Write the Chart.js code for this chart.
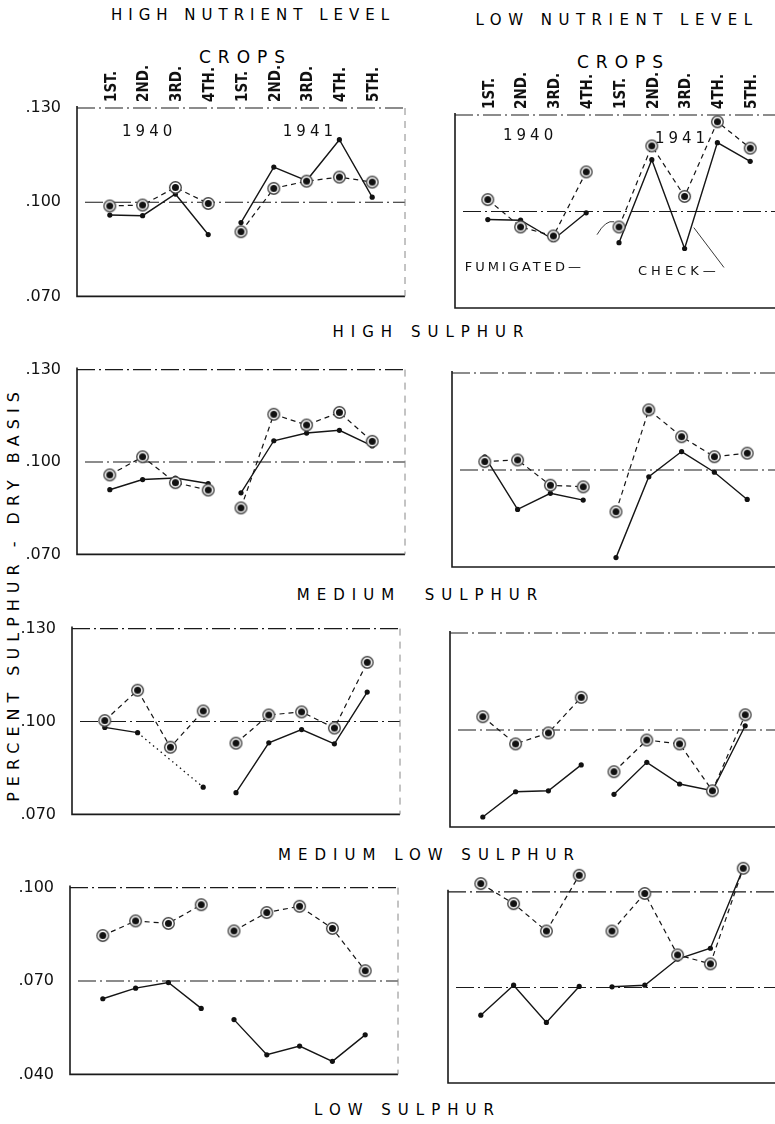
<!DOCTYPE html>
<html>
<head>
<meta charset="utf-8">
<script src="https://cdn.jsdelivr.net/npm/chart.js@4.4.1/dist/chart.umd.min.js"></script>
<style>
  html, body { margin: 0; padding: 0; background: #fff; overflow: hidden; }
  body { width: 775px; height: 1124px; position: relative; font-family: 'DejaVu Sans', sans-serif; color: #000; }
  .t { position: absolute; white-space: nowrap; line-height: 1; transform: translate(-50%, -50%); }
  canvas { position: absolute; }
</style>
</head>
<body>
<div class="t" style="left:250px;top:15px;font-size:15px;letter-spacing:6px;padding-left:6px">HIGH NUTRIENT LEVEL</div>
<div class="t" style="left:614px;top:20px;font-size:15px;letter-spacing:6.5px;padding-left:6px">LOW NUTRIENT LEVEL</div>
<div class="t" style="left:242px;top:57px;font-size:17px;letter-spacing:7px;padding-left:7px">CROPS</div>
<div class="t" style="left:620px;top:62px;font-size:17px;letter-spacing:7px;padding-left:7px">CROPS</div>
<div class="t" style="left:428px;top:332px;font-size:15px;letter-spacing:7px;padding-left:7px">HIGH SULPHUR</div>
<div class="t" style="left:417px;top:595px;font-size:15px;letter-spacing:7px;padding-left:7px">MEDIUM&nbsp; SULPHUR</div>
<div class="t" style="left:426px;top:855px;font-size:15px;letter-spacing:7px;padding-left:7px">MEDIUM LOW SULPHUR</div>
<div class="t" style="left:404px;top:1110px;font-size:15px;letter-spacing:7px;padding-left:7px">LOW SULPHUR</div>
<div class="t" style="left:14px;top:597px;font-size:16px;letter-spacing:6px;padding-left:6px;transform:translate(-50%,-50%) rotate(-90deg)">PERCENT SULPHUR - DRY BASIS</div>

<script>
// crops along the top (1940: 4 crops, 1941: 5 crops)
const crops = ['1ST.', '2ND.', '3RD.', '4TH.', '1ST.', '2ND.', '3RD.', '4TH.', '5TH.'];
const yTicksHigh = [0.070, 0.100, 0.130];
const yTicksLow = [0.040, 0.070, 0.100];

// percent sulphur, check (solid) and fumigated (dashed); 9 crops each
const hiS_hiN_check = [0.0959, 0.0957, 0.1026, 0.0897, 0.0935, 0.1112, 0.1069, 0.1199, 0.1016];
const hiS_hiN_fum   = [0.0988, 0.0991, 0.1047, 0.0996, 0.0906, 0.1044, 0.1067, 0.1080, 0.1064];
const hiS_loN_check = [0.0975, 0.0973, 0.0913, 0.0996, 0.0903, 0.1161, 0.0885, 0.1214, 0.1156];
const hiS_loN_fum   = [0.1037, 0.0952, 0.0924, 0.1123, 0.0952, 0.1204, 0.1047, 0.1279, 0.1197];

const medS_hiN_check = [0.0910, 0.0943, 0.0948, 0.0930, 0.0900, 0.1069, 0.1094, 0.1103, 0.1052];
const medS_hiN_fum   = [0.0958, 0.1017, 0.0933, 0.0909, 0.0851, 0.1155, 0.1120, 0.1161, 0.1067];
const medS_loN_check = [0.1041, 0.0878, 0.0928, 0.0907, 0.0729, 0.0979, 0.1057, 0.0993, 0.0909];
const medS_loN_fum   = [0.1026, 0.1031, 0.0953, 0.0948, 0.0871, 0.1186, 0.1103, 0.1041, 0.1052];

const mlS_hiN_check = [0.0981, 0.0964, null, 0.0788, 0.0770, 0.0931, 0.0974, 0.0928, 0.1095];
const mlS_hiN_fum   = [0.1003, 0.1101, 0.0917, 0.1034, 0.0930, 0.1021, 0.1031, 0.0979, 0.1191];
const mlS_loN_check = [0.0731, 0.0809, 0.0812, 0.0892, 0.0801, 0.0900, 0.0833, 0.0812, 0.1013];
const mlS_loN_fum   = [0.1041, 0.0957, 0.0991, 0.1101, 0.0871, 0.0969, 0.0957, 0.0812, 0.1047];

const loS_hiN_check = [0.0643, 0.0677, 0.0695, 0.0612, 0.0576, 0.0463, 0.0491, 0.0442, 0.0527];
const loS_hiN_fum   = [0.0846, 0.0893, 0.0885, 0.0945, 0.0861, 0.0920, 0.0940, 0.0869, 0.0733];
const loS_loN_check = [0.0613, 0.0707, 0.0590, 0.0703, 0.0702, 0.0707, 0.0789, 0.0823, 0.1074];
const loS_loN_fum   = [0.1026, 0.0963, 0.0877, 0.1052, 0.0877, 0.0995, 0.0802, 0.0774, 0.1074];

const FONT = "'DejaVu Sans', sans-serif";
const xLabels = [''].concat(crops, ['']);

// plot area placement of each panel (the scan is slightly skewed)
const panels = [
  { L: 77,  T: 108, H: 194, left: true,  top: true,  check: hiS_hiN_check, fum: hiS_hiN_fum, ticks: yTicksHigh,
    notes: [{ text: '1940', x: 2.2, y: 0.1223 }, { text: '1941', x: 7.1, y: 0.1223 }] },
  { L: 455, T: 115, H: 193, left: false, top: true,  check: hiS_loN_check, fum: hiS_loN_fum, ticks: yTicksHigh,
    notes: [{ text: '1940', x: 2.29, y: 0.1235 }, { text: '1941', x: 6.92, y: 0.1226 },
            { text: 'FUMIGATED—', x: 0.3, y: 0.0826, size: 13, ls: 3, align: 'left' },
            { text: 'CHECK—', x: 5.58, y: 0.0813, size: 13, ls: 4, align: 'left' },
            { line: [8.2, 0.0826, 7.28, 0.0950] },
            { curve: [4.33, 0.0928, 4.6, 0.0975, 4.85, 0.0968] }] },
  { L: 77,  T: 368, H: 192, left: true,  top: false, check: medS_hiN_check, fum: medS_hiN_fum, ticks: yTicksHigh, notes: [] },
  { L: 452, T: 373, H: 194, left: false, top: false, check: medS_loN_check, fum: medS_loN_fum, ticks: yTicksHigh, notes: [] },
  { L: 72,  T: 627, H: 193, left: true,  top: false, check: mlS_hiN_check, fum: mlS_hiN_fum, ticks: yTicksHigh, notes: [] },
  { L: 450, T: 633, H: 194, left: false, top: false, check: mlS_loN_check, fum: mlS_loN_fum, ticks: yTicksHigh, notes: [] },
  { L: 70,  T: 886, H: 194, left: true,  top: false, check: loS_hiN_check, fum: loS_hiN_fum, ticks: yTicksLow, notes: [] },
  { L: 448, T: 892, H: 191, left: false, top: false, check: loS_loN_check, fum: loS_loN_fum, ticks: yTicksLow, notes: [], head: 0.010 }
];
const PW = 328;   // plot width
const AXW = 77;   // y axis label band
const XAH = 50;   // crop label band
const TOPPAD = 16; // room above the lower panels

function ringMarker() {
  const c = document.createElement('canvas');
  c.width = 15; c.height = 15;
  const g = c.getContext('2d');
  g.beginPath(); g.arc(7.5, 7.5, 5.8, 0, Math.PI * 2);
  g.fillStyle = '#fff'; g.fill();
  g.lineWidth = 1.4; g.strokeStyle = '#444'; g.stroke();
  g.beginPath(); g.arc(7.5, 7.5, 3.5, 0, Math.PI * 2);
  g.fillStyle = '#111'; g.fill();
  return c;
}
const ring = ringMarker();

function pad(vals, start) {
  const out = new Array(xLabels.length).fill(null);
  vals.forEach((v, i) => { out[start + i] = v; });
  return out;
}

// a missing crop is bridged with a dotted line
const gap = (ctx, v) => (ctx.p0.skip || ctx.p1.skip ? v : undefined);

function lineSet(data, kind) {
  const fum = kind === 'fum';
  return {
    data: data,
    borderColor: '#151515',
    borderWidth: fum ? 1.2 : 1.4,
    borderDash: fum ? [5, 4] : [],
    pointStyle: fum ? ring : 'circle',
    pointRadius: fum ? 6 : 2.6,
    pointBackgroundColor: '#111',
    pointBorderWidth: 0,
    spanGaps: true,
    clip: false,
    tension: 0,
    segment: {
      borderDash: ctx => gap(ctx, [1.5, 3.5]),
      borderWidth: ctx => gap(ctx, 1.3)
    }
  };
}

const framePlugin = {
  id: 'frame',
  beforeDatasetsDraw(chart, args, opts) {
    const { ctx, chartArea: a, scales: { y } } = chart;
    const yt = y.getPixelForValue(opts.ticks[2]);
    const yb = y.getPixelForValue(opts.ticks[0]);
    const ym = y.getPixelForValue(opts.ticks[1]);
    ctx.save();
    ctx.strokeStyle = '#1a1a1a';
    ctx.lineWidth = 1.6;
    ctx.beginPath();
    ctx.moveTo(a.left, yt - 2);
    ctx.lineTo(a.left, yb);
    ctx.lineTo(a.right, yb);
    ctx.stroke();
    ctx.lineWidth = 1.1;
    ctx.setLineDash([18, 4, 2, 4]);
    ctx.beginPath(); ctx.moveTo(a.left, yt); ctx.lineTo(a.right, yt); ctx.stroke();
    ctx.beginPath(); ctx.moveTo(a.left + 8, ym); ctx.lineTo(a.right, ym); ctx.stroke();
    ctx.strokeStyle = '#888';
    ctx.lineWidth = 1;
    ctx.setLineDash([7, 6]);
    ctx.beginPath(); ctx.moveTo(a.right, yt); ctx.lineTo(a.right, yb); ctx.stroke();
    ctx.restore();
  },
  afterDatasetsDraw(chart, args, opts) {
    const { ctx } = chart;
    const sx = chart.scales.x, sy = chart.scales.y;
    const px = v => sx.getPixelForValue(v), py = v => sy.getPixelForValue(v);
    ctx.save();
    ctx.fillStyle = '#111';
    ctx.strokeStyle = '#222';
    (opts.notes || []).forEach(n => {
      if (n.text) {
        ctx.font = (n.size || 15) + 'px ' + FONT;
        ctx.letterSpacing = (n.ls || 4) + 'px';
        ctx.textAlign = n.align || 'center';
        ctx.textBaseline = 'middle';
        ctx.fillText(n.text, px(n.x), py(n.y));
      } else if (n.line) {
        const [x1, y1, x2, y2] = n.line;
        ctx.lineWidth = 0.9;
        ctx.beginPath(); ctx.moveTo(px(x1), py(y1)); ctx.lineTo(px(x2), py(y2)); ctx.stroke();
      } else if (n.curve) {
        const [x1, y1, cx, cy, x2, y2] = n.curve;
        ctx.lineWidth = 0.9;
        ctx.beginPath(); ctx.moveTo(px(x1), py(y1));
        ctx.quadraticCurveTo(px(cx), py(cy), px(x2), py(y2)); ctx.stroke();
      }
    });
    ctx.restore();
  }
};

panels.forEach(p => {
  const cv = document.createElement('canvas');
  const padL = p.left ? 0 : 24;
  const bandL = p.left ? AXW : 0;
  const span = p.ticks[2] - p.ticks[0];
  const head = p.head || 0;
  const headPx = Math.round(p.H * head / span);
  const topBand = p.top ? XAH : TOPPAD;
  cv.width = bandL + padL + PW + 8;
  cv.height = topBand + headPx + p.H + 12;
  cv.style.left = (p.L - bandL - padL) + 'px';
  cv.style.top = (p.T - headPx - topBand) + 'px';
  document.body.appendChild(cv);

  const datasets = [
    lineSet(pad(p.fum.slice(0, 4), 1), 'fum'),
    lineSet(pad(p.fum.slice(4), 5), 'fum'),
    lineSet(pad(p.check.slice(0, 4), 1), 'check'),
    lineSet(pad(p.check.slice(4), 5), 'check')
  ];

  new Chart(cv, {
    type: 'line',
    data: { labels: xLabels, datasets: datasets },
    options: {
      responsive: false,
      animation: false,
      events: [],
      layout: { padding: { left: padL, right: 8, top: p.top ? 0 : TOPPAD, bottom: 12 } },
      plugins: {
        legend: { display: false },
        tooltip: { enabled: false },
        frame: { ticks: p.ticks, notes: p.notes }
      },
      scales: {
        x: {
          position: 'top',
          display: p.top,
          grid: { display: false },
          border: { display: false },
          ticks: {
            autoSkip: false, minRotation: 90, maxRotation: 90, padding: -2, labelOffset: 20, color: '#111',
            font: { family: "'DejaVu Sans Condensed', " + FONT, size: 15, weight: 'bold' }
          },
          afterFit: s => { if (p.top) s.height = XAH; }
        },
        y: {
          min: p.ticks[0],
          max: p.ticks[2] + head,
          display: p.left,
          grid: { display: false },
          border: { display: false },
          afterBuildTicks: s => { s.ticks = p.ticks.map(v => ({ value: v })); },
          ticks: {
            padding: 8, color: '#111',
            font: { family: FONT, size: 16 },
            callback: v => v.toFixed(3).slice(1)
          },
          afterFit: s => { if (p.left) s.width = AXW; }
        }
      }
    },
    plugins: [framePlugin]
  });
});
</script>
</body>
</html>
